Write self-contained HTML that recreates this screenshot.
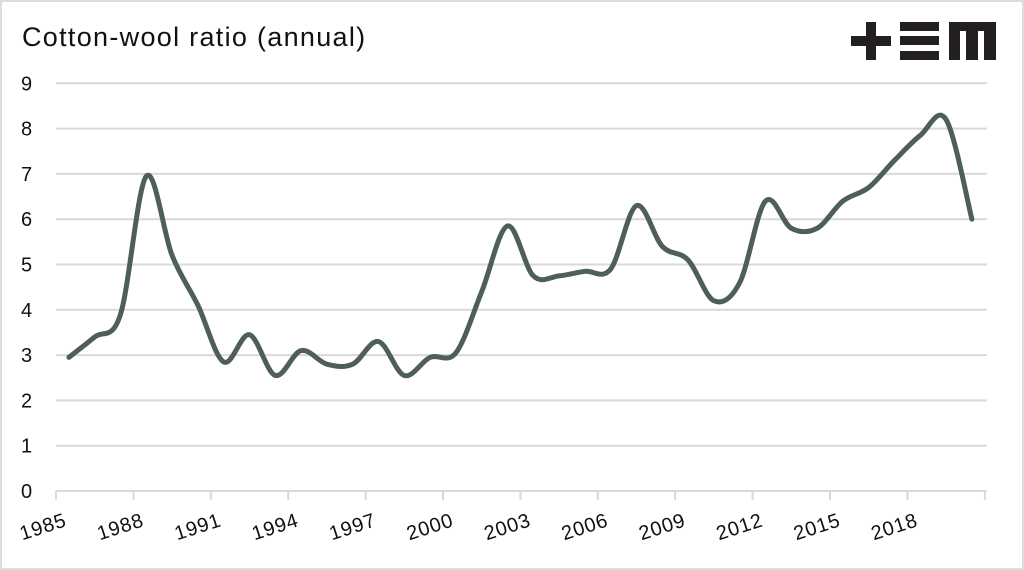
<!DOCTYPE html>
<html><head><meta charset="utf-8"><style>
html,body{margin:0;padding:0;background:#fff}
svg{display:block}
text{font-family:"Liberation Sans",sans-serif;fill:#111}
</style></head><body>
<svg id="s" width="1024" height="570" viewBox="0 0 1024 570" xmlns="http://www.w3.org/2000/svg">
<rect x="1" y="1" width="1022" height="568" fill="#fff" stroke="#dcdcdc" stroke-width="2"/>
<text x="22" y="46" font-size="27" letter-spacing="1.3">Cotton-wool ratio (annual)</text>
<g fill="#231f20">
<rect x="851" y="36" width="40" height="10"/><rect x="866" y="22" width="10" height="38"/>
<rect x="900" y="22" width="39" height="9"/><rect x="900" y="36" width="39" height="9"/><rect x="900" y="51" width="39" height="9"/>
<rect x="949" y="22" width="47" height="38"/>
</g>
<g fill="#fff"><rect x="960" y="31" width="6" height="29"/><rect x="978" y="31" width="6" height="29"/></g>
<g id="grid" stroke="#d9d9d9" stroke-width="2"></g>
<g id="yl" font-size="20"></g>
<g id="xl" font-size="20" letter-spacing="0.8"></g>
<path id="ln" fill="none" stroke="#4d5e5d" stroke-width="5" stroke-linejoin="round" stroke-linecap="round"/>
</svg>
<script>
var ns="http://www.w3.org/2000/svg",y0=491,u=45.3,x0=56,dx=25.8;
function el(p,t,a,txt){var e=document.createElementNS(ns,t);for(var k in a)e.setAttribute(k,a[k]);if(txt)e.textContent=txt;document.getElementById(p).appendChild(e);}
for(var i=0;i<=9;i++){var y=y0-i*u;el('grid','line',{x1:x0,x2:987,y1:y,y2:y});el('yl','text',{x:21,y:y+7},String(i));}
for(var j=0;j<=12;j++){var x=x0+j*3*dx;el('grid','line',{x1:x,x2:x,y1:y0,y2:y0+9});
 if(j<12){var lx=x-11,ly=y0+42;el('xl','text',{x:lx,y:ly,transform:'rotate(-18 '+lx+' '+ly+')','text-anchor':'middle'},String(1985+3*j));}}
var v=[2.95,3.4,3.9,6.95,5.2,4.1,2.85,3.45,2.55,3.1,2.8,2.8,3.3,2.55,2.95,3.05,4.4,5.85,4.75,4.75,4.85,4.9,6.3,5.4,5.1,4.2,4.6,6.4,5.8,5.8,6.4,6.7,7.3,7.85,8.2,6.0];
var P=v.map(function(a,i){return [x0+dx/2+i*dx,y0-a*u];});
var d='M'+P[0][0]+','+P[0][1];
for(var i=0;i<P.length-1;i++){var p0=P[Math.max(0,i-1)],p1=P[i],p2=P[i+1],p3=P[Math.min(P.length-1,i+2)],t=6;
 d+=' C'+(p1[0]+(p2[0]-p0[0])/t)+','+(p1[1]+(p2[1]-p0[1])/t)+' '+(p2[0]-(p3[0]-p1[0])/t)+','+(p2[1]-(p3[1]-p1[1])/t)+' '+p2[0]+','+p2[1];}
document.getElementById('ln').setAttribute('d',d);
</script>
</body></html>
